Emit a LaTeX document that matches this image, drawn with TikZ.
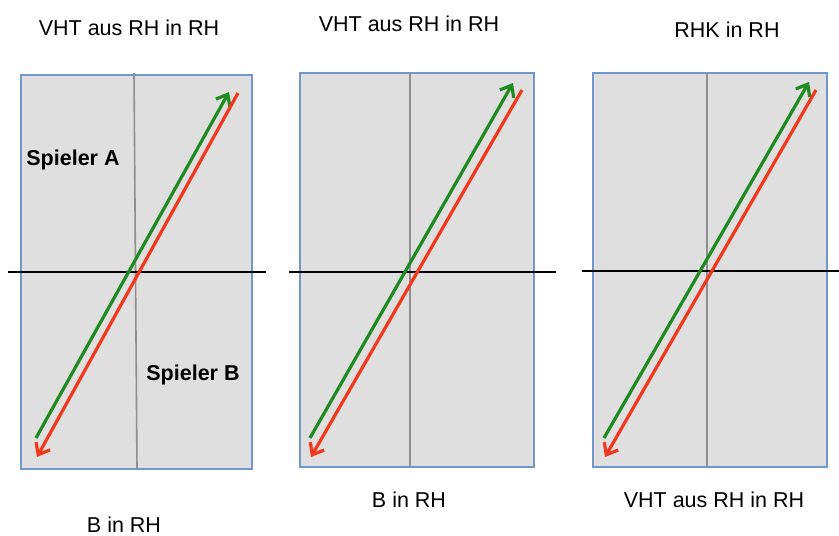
\documentclass[tikz,border=0pt]{standalone}
\usepackage{fontspec}
\setmainfont{Liberation Sans}
\usetikzlibrary{arrows.meta}
\definecolor{panelfill}{HTML}{DFDFDF}
\definecolor{panelborder}{HTML}{7098CC}
\definecolor{axisgrey}{HTML}{8E8E8E}
\definecolor{arrgreen}{HTML}{1F8A1F}
\definecolor{arrred}{HTML}{F2381C}
\tikzset{
  panel/.style={draw=panelborder, fill=panelfill, line width=1.6pt},
  vaxis/.style={draw=axisgrey, line width=1.6pt},
  haxis/.style={draw=black, line width=1.6pt},
  greenarrow/.style={draw=arrgreen, line width=3.2pt, -{Straight Barb[length=10pt,width=16pt,line width=3.2pt]}},
  redarrow/.style={draw=arrred, line width=3.2pt, -{Straight Barb[length=10pt,width=16pt,line width=3.2pt]}},
  caption/.style={font=\fontsize{21.5}{25}\selectfont, inner sep=0pt},
  player/.style={font=\fontsize{21.5}{25}\selectfont\bfseries, inner sep=0pt},
}
\begin{document}
\begin{tikzpicture}[x=1pt,y=-1pt]
\useasboundingbox (0,0) rectangle (839,536);
% panel 1
\draw[panel] (21,75) rectangle (252,469);
\coordinate (v1t) at (134,73); \coordinate (v1b) at (137,469);
\draw[vaxis] (v1t) -- (v1b);
\coordinate (h1l) at (8,272); \coordinate (h1r) at (266,272);
\draw[haxis] (h1l) -- (h1r);
\coordinate (g1s) at (36,438); \coordinate (g1e) at (229,92);
\coordinate (r1s) at (238,93); \coordinate (r1e) at (37,457);
\draw[greenarrow] (g1s) -- (g1e);
\draw[redarrow] (r1s) -- (r1e);
\node[player] (pa) at (73,160) {Spieler A};
\node[player] (pb) at (193,375) {Spieler B};
% panel 2
\draw[panel] (300,73) rectangle (534,467);
\coordinate (v2t) at (410,73); \coordinate (v2b) at (410,468);
\draw[vaxis] (v2t) -- (v2b);
\coordinate (h2l) at (289,272); \coordinate (h2r) at (556,272);
\draw[haxis] (h2l) -- (h2r);
\coordinate (g2s) at (310,438); \coordinate (g2e) at (513,83);
\coordinate (r2s) at (522,90); \coordinate (r2e) at (311,457);
\draw[greenarrow] (g2s) -- (g2e);
\draw[redarrow] (r2s) -- (r2e);
% panel 3
\draw[panel] (593,73) rectangle (827,467);
\coordinate (v3t) at (707,73); \coordinate (v3b) at (707,467);
\draw[vaxis] (v3t) -- (v3b);
\coordinate (h3l) at (582,271); \coordinate (h3r) at (839,271);
\draw[haxis] (h3l) -- (h3r);
\coordinate (g3s) at (604,438); \coordinate (g3e) at (809,82);
\coordinate (r3s) at (816,90); \coordinate (r3e) at (605,457);
\draw[greenarrow] (g3s) -- (g3e);
\draw[redarrow] (r3s) -- (r3e);
% captions
\node[caption] (t1) at (129,28) {VHT aus RH in RH};
\node[caption] (t2) at (409,24) {VHT aus RH in RH};
\node[caption] (t3) at (727,30) {RHK in RH};
\node[caption] (b2) at (409,500) {B in RH};
\node[caption] (b3) at (714,500) {VHT aus RH in RH};
\node[caption] (b1) at (124,525) {B in RH};
\end{tikzpicture}
\end{document}
